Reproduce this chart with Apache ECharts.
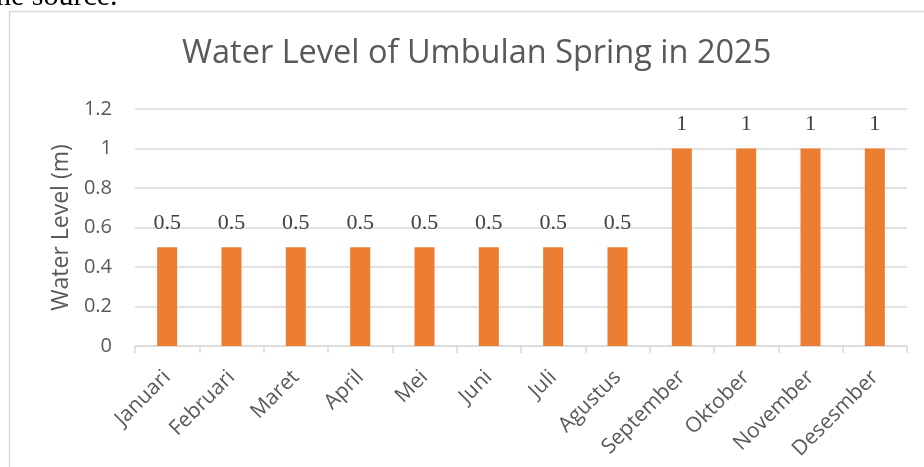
<!DOCTYPE html>
<html>
<head>
<meta charset="utf-8">
<script src="https://cdn.jsdelivr.net/npm/echarts@6/dist/echarts.min.js"></script>
<style>
  html, body { margin: 0; padding: 0; background: #fff; }
  #chart { width: 924px; height: 467px; }
</style>
</head>
<body>
<div id="chart"></div>
<script>
const months = ['Januari', 'Februari', 'Maret', 'April', 'Mei', 'Juni', 'Juli',
  'Agustus', 'September', 'Oktober', 'November', 'Desesmber']
const waterLevel = [0.5, 0.5, 0.5, 0.5, 0.5, 0.5, 0.5, 0.5, 1, 1, 1, 1]
const yTicks = [0, 0.2, 0.4, 0.6, 0.8, 1, 1.2]

const sans = 'Open Sans'
const grey = '#595959'
const lineGrey = '#d9d9d9'

const chart = echarts.init(document.getElementById('chart'))
chart.setOption({
  animation: false,
  graphic: [
    {
      type: 'rect',
      shape: { x: 9.5, y: 11.5, width: 960, height: 500 },
      style: { fill: 'none', stroke: lineGrey, lineWidth: 1.5 }
    },
    {
      // tail of the sentence above the chart in the source document
      type: 'text',
      x: -4,
      y: 12,
      style: {
        text: 'he source.',
        font: '30px "Liberation Serif"',
        fill: '#000',
        verticalAlign: 'bottom'
      }
    }
  ],
  title: {
    text: 'Water Level of Umbulan Spring in 2025',
    left: 177,
    top: 32,
    textStyle: { fontFamily: sans, fontSize: 32.5, fontWeight: 'normal', color: grey }
  },
  grid: { left: 135, right: 17, top: 109, bottom: 121 },
  xAxis: {
    type: 'category',
    data: months,
    axisLine: { lineStyle: { color: lineGrey, width: 1.5 } },
    axisTick: { show: true, length: 7, lineStyle: { color: lineGrey, width: 1.5 } },
    axisLabel: {
      rotate: 45,
      margin: 28,
      interval: 0,
      fontFamily: sans,
      fontSize: 21,
      color: grey
    }
  },
  yAxis: {
    type: 'value',
    min: 0,
    max: 1.2,
    interval: 0.2,
    name: 'Water Level (m)',
    nameLocation: 'middle',
    nameGap: 62,
    nameTextStyle: { fontFamily: sans, fontSize: 23, color: grey },
    axisLine: { show: false },
    axisTick: { show: false },
    axisLabel: {
      margin: 23,
      fontFamily: sans,
      fontSize: 20,
      color: grey,
      formatter: v => {
        const t = yTicks.find(x => Math.abs(x - v) < 1e-9)
        return t === undefined ? '' : String(t)
      }
    },
    splitLine: { lineStyle: { color: lineGrey, width: 1.5 } }
  },
  series: [
    {
      type: 'bar',
      data: waterLevel,
      barWidth: 20,
      itemStyle: { color: '#ed7d31' },
      label: {
        show: true,
        position: 'top',
        distance: 13,
        fontFamily: 'Liberation Serif',
        fontSize: 22,
        color: '#404040'
      }
    }
  ]
})
</script>
</body>
</html>
